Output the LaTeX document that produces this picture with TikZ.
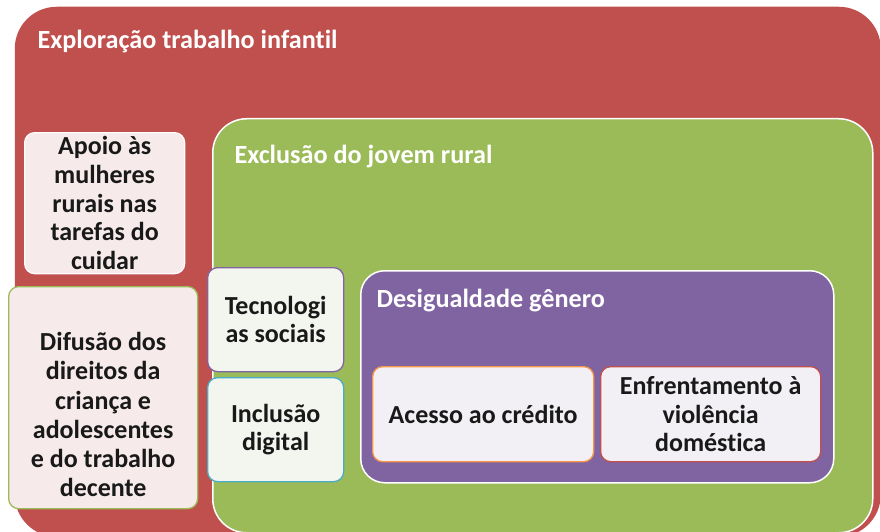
\documentclass[tikz,border=0pt]{standalone}
\usepackage{fontspec}
\setmainfont{Carlito}[Ligatures=NoCommon]
\usetikzlibrary{positioning}

\definecolor{expred}{HTML}{C0504D}
\definecolor{jovgreen}{HTML}{9BBB59}
\definecolor{despurple}{HTML}{8064A2}
\definecolor{incteal}{HTML}{4BACC6}
\definecolor{acorange}{HTML}{F79646}
\definecolor{pinkfill}{HTML}{F6EAEA}
\definecolor{greenfill}{HTML}{F3F5EF}
\definecolor{lilacfill}{HTML}{F2F0F5}

\begin{document}
\begin{tikzpicture}[x=1pt, y=-1pt,
  frame/.style={draw=white, line width=1.5pt, inner sep=0pt, anchor=north west},
  leaf/.style={line width=1.3pt, rounded corners=10pt, inner sep=0pt, anchor=north west,
    align=center, text=black!90, font=\fontsize{26}{28.6}\selectfont\bfseries},
  title/.style={anchor=base west, text=white, font=\fontsize{26.2}{29}\selectfont\bfseries}]
  % page 880 x 532 px, 1 px = 1 pt, y grows downwards
  \useasboundingbox (0,0) rectangle (880,532);
  \clip (0,0) rectangle (880,532);

  % Outer container: child labour
  \node[frame, draw=none, fill=expred, rounded corners=42pt,
    minimum width=866pt, minimum height=530pt] (explor) at (14,6) {};
  \node[title] (explortit) at (34,49) {Exploração trabalho infantil};

  % Rural youth exclusion
  \node[frame, fill=jovgreen, rounded corners=34pt,
    minimum width=660pt, minimum height=414pt] (jovem) at (212,118) {};
  \node[title] (jovemtit) at (231,163) {Exclusão do jovem rural};

  % Gender inequality
  \node[frame, fill=despurple, rounded corners=24pt,
    minimum width=473pt, minimum height=212pt] (genero) at (360,270) {};
  \node[title] (generotit) at (373,307) {Desigualdade gênero};

  % Left column
  \node[leaf, draw=white!85!pinkfill, fill=pinkfill,
    minimum width=160pt, minimum height=141pt] (apoio) at (24,132)
    {Apoio às\\mulheres\\rurais nas\\tarefas do\\cuidar};
  \node[leaf, draw=jovgreen, fill=pinkfill,
    minimum width=189pt, minimum height=222pt] (difusao) at (8,286) {};
  \node[leaf, anchor=center, font=\fontsize{26}{29.2}\selectfont\bfseries]
    (difusaotxt) at ([yshift=-17pt]difusao.center)
    {Difusão dos\\direitos da\\criança e\\adolescentes\\e do trabalho\\decente};

  % Middle column
  \node[leaf, draw=despurple, fill=greenfill,
    minimum width=136pt, minimum height=104pt] (tecno) at (207,267)
    {Tecnologi\\as sociais};
  \node[leaf, draw=incteal, fill=greenfill,
    minimum width=136pt, minimum height=104pt] (inclusao) at (207,377)
    {Inclusão\\digital};

  % Inside gender inequality
  \node[leaf, draw=acorange, fill=lilacfill,
    minimum width=221pt, minimum height=95pt] (credito) at (372,366)
    {Acesso ao crédito};
  \node[leaf, draw=expred, fill=lilacfill,
    minimum width=220pt, minimum height=95pt] (violencia) at (600,366)
    {Enfrentamento à\\violência\\doméstica};
\end{tikzpicture}
\end{document}
